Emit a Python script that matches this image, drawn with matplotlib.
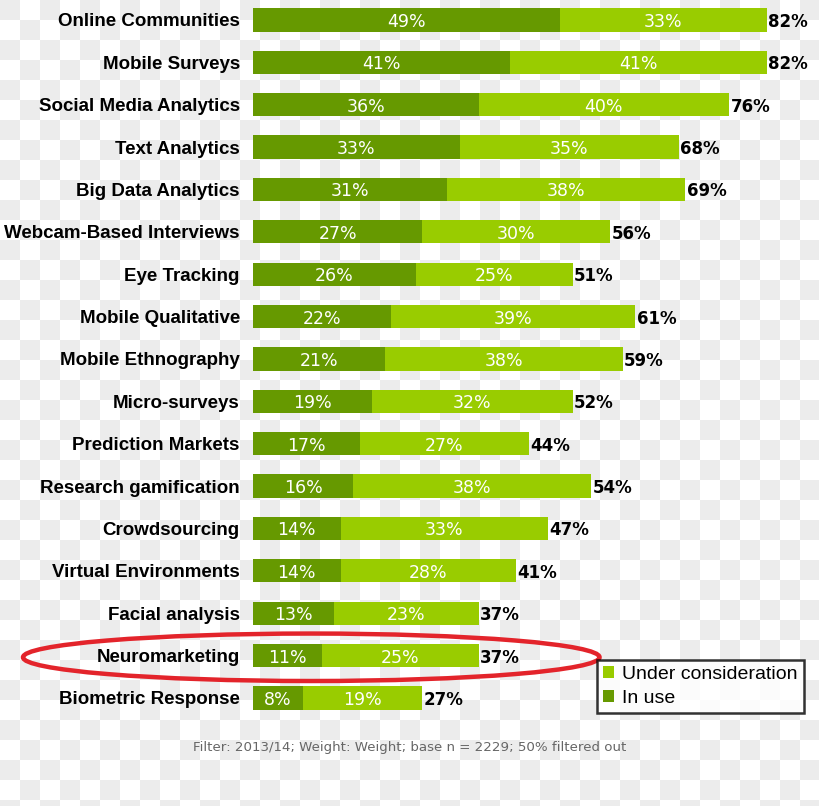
import numpy as np
import matplotlib.pyplot as plt
from matplotlib.patches import Ellipse, Patch

# Data
categories = ['Online Communities', 'Mobile Surveys', 'Social Media Analytics',
              'Text Analytics', 'Big Data Analytics', 'Webcam-Based Interviews',
              'Eye Tracking', 'Mobile Qualitative', 'Mobile Ethnography',
              'Micro-surveys', 'Prediction Markets', 'Research gamification',
              'Crowdsourcing', 'Virtual Environments', 'Facial analysis',
              'Neuromarketing', 'Biometric Response']
in_use = [49, 41, 36, 33, 31, 27, 26, 22, 21, 19, 17, 16, 14, 14, 13, 11, 8]
under_consideration = [33, 41, 40, 35, 38, 30, 25, 39, 38, 32, 27, 38, 33, 28, 23, 25, 19]
totals = [82, 82, 76, 68, 69, 56, 51, 61, 59, 52, 44, 54, 47, 41, 37, 37, 27]
highlight = 'Neuromarketing'
footer = 'Filter: 2013/14; Weight: Weight; base n = 2229; 50% filtered out'

DARK = '#669900'
LIGHT = '#99cc00'
W, H = 820, 806

fig = plt.figure(figsize=(W / 100, H / 100), dpi=100)

# checkerboard background (transparent png look)
bg = fig.add_axes([0, 0, 1, 1])
sq = 20
ny, nx = H // sq + 1, W // sq + 1
board = (np.add.outer(np.arange(ny), np.arange(nx)) % 2 == 0)
bg.imshow(np.where(board, 0.925, 1.0), cmap='gray', vmin=0, vmax=1,
          extent=[0, nx * sq, ny * sq, 0], interpolation='nearest')
bg.set_xlim(0, W)
bg.set_ylim(H, 0)
bg.axis('off')

ax = fig.add_axes([253 / W, 0.1025, 564 / W, 0.8964])
ax.patch.set_alpha(0)
y = np.arange(len(categories))
ax.barh(y, in_use, height=0.55, color=DARK, edgecolor='none')
ax.barh(y, under_consideration, left=in_use, height=0.55, color=LIGHT, edgecolor='none')

for i in range(len(categories)):
    ax.text(in_use[i] / 2, i, f'{in_use[i]}%', ha='center', va='center_baseline',
            color='white', family='DejaVu Sans', fontsize=12.5)
    ax.text(in_use[i] + under_consideration[i] / 2, i, f'{under_consideration[i]}%',
            ha='center', va='center_baseline', color='white', family='DejaVu Sans', fontsize=12.5)
    ax.text(in_use[i] + under_consideration[i] + 0.2, i, f'{totals[i]}%',
            ha='left', va='center_baseline', color='black', fontweight='bold',
            family='DejaVu Sans', fontsize=12)

ax.set_xlim(0, 90)
ax.set_ylim(16.6, -0.45)
ax.set_yticks(y)
ax.set_yticklabels(categories, family='Liberation Sans', fontsize=13.5, fontweight='bold')
ax.tick_params(axis='y', length=0, pad=9.5)
ax.set_xticks([])
for s in ax.spines.values():
    s.set_visible(False)

# red ellipse around the highlighted row
hi = categories.index(highlight)
ax.add_patch(Ellipse((9.3, hi + 0.04), 92.0, 1.12, fill=False, edgecolor='#e3242b',
                     linewidth=3.2, clip_on=False, zorder=5))

handles = [Patch(facecolor=LIGHT, edgecolor='none', label='Under consideration'),
           Patch(facecolor=DARK, edgecolor='none', label='In use')]
leg = fig.legend(handles=handles, loc='upper left', bbox_to_anchor=(597 / W, 1 - 660 / H),
                 frameon=True, fancybox=False, prop={'family': 'Liberation Sans', 'size': 14},
                 handlelength=0.6, handleheight=0.6, handletextpad=0.4,
                 labelspacing=0.35, borderpad=0.3, borderaxespad=0)
leg.get_frame().set_edgecolor('black')
leg.get_frame().set_linewidth(1.8)
leg.get_frame().set_facecolor('white')

fig.text(410 / W, 1 - 748 / H, footer, ha='center', va='center',
         color='#666666', fontsize=9.6, family='DejaVu Sans')

fig.savefig('out.png', dpi=100)
